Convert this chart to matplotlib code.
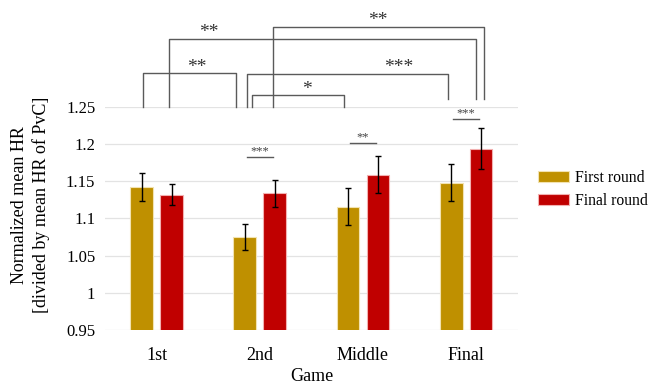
import numpy as np
import matplotlib
matplotlib.use("Agg")
from matplotlib import pyplot as plt

# mean normalized HR per game, with error bar extents
games = ["1st", "2nd", "Middle", "Final"]
first_round = [1.142, 1.075, 1.116, 1.148]
first_err = [0.019, 0.017, 0.025, 0.025]
final_round = [1.132, 1.134, 1.159, 1.194]
final_err = [0.014, 0.018, 0.025, 0.028]

# significance brackets between games:
# (x left, x right, top, left leg end, right leg end, label, label x)
brackets = [
    (-0.13, 0.77, 1.296, 1.25, 1.25, "**", 0.39),
    (0.12, 3.10, 1.342, 1.25, 1.261, "**", 0.51),
    (1.127, 3.17, 1.358, 1.25, 1.261, "**", 2.14),
    (0.875, 2.82, 1.295, 1.25, 1.261, "***", 2.35),
    (0.924, 1.82, 1.266, 1.25, 1.25, "*", 1.46),
]
# within-game comparisons (first vs final round)
pairs = [(1, 1.183, "***"), (2, 1.202, "**"), (3, 1.234, "***")]

plt.rcParams['font.family'] = ['Liberation Serif', 'DejaVu Serif']

fig = plt.figure(figsize=(6.48, 3.84), dpi=100)
ax = fig.add_axes([0.162, 0.141, 0.637, 0.580])

x = np.arange(len(games))
w = 0.22
off = 0.145
ax.bar(x - off, first_round, w, bottom=0, color="#BF9000", edgecolor="#F2E2B0",
       linewidth=0.8, label="First round", zorder=2)
ax.bar(x + off, final_round, w, bottom=0, color="#C00000", edgecolor="#F2B0B0",
       linewidth=0.8, label="Final round", zorder=2)
ax.errorbar(x - off, first_round, yerr=first_err, fmt="none", ecolor="black",
            elinewidth=1, capsize=2.5, capthick=1, zorder=3)
ax.errorbar(x + off, final_round, yerr=final_err, fmt="none", ecolor="black",
            elinewidth=1, capsize=2.5, capthick=1, zorder=3)

ax.set_ylim(0.95, 1.25)
ax.set_xlim(-0.5, 3.5)
ax.set_yticks([0.95, 1, 1.05, 1.1, 1.15, 1.2, 1.25])
ax.set_yticklabels(["0.95", "1", "1.05", "1.1", "1.15", "1.2", "1.25"], fontsize=12)
ax.set_xticks(x)
ax.set_xticklabels(games, fontsize=13)
ax.tick_params(axis="both", length=0, pad=7)
ax.tick_params(axis="x", pad=12)
ax.grid(axis="y", color="#E3E3E3", linewidth=0.9, zorder=0)
ax.set_axisbelow(True)
for s in ax.spines.values():
    s.set_visible(False)

fig.text(0.047, 0.466, "Normalized mean HR\n[divided by mean HR of PvC]",
         rotation=90, ha="center", va="center", fontsize=13, linespacing=1.25)
fig.text(0.481, 1 - 368 / 384, "Game", ha="center", va="top", fontsize=13)

line_c = "#5A5A5A"
for x0, x1, top, l0, l1, lab, lx in brackets:
    ax.plot([x0, x0, x1, x1], [l0, top, top, l1], color=line_c, lw=1.0,
            clip_on=False, zorder=1)
    ax.text(lx, top + 0.002, lab, ha="center", va="baseline", fontsize=14,
            color="#333333", clip_on=False)

for i, y, lab in pairs:
    ax.plot([i - 0.125, i + 0.125], [y, y], color=line_c, lw=1.0, clip_on=False)
    ax.text(i, y + 0.003, lab, ha="center", va="baseline", fontsize=9,
            color="#444444", clip_on=False)

leg = ax.legend(loc="upper left", bbox_to_anchor=(538 / 648, 1 - 170 / 384),
                bbox_transform=fig.transFigure, frameon=False, borderpad=0,
                borderaxespad=0, fontsize=11.3, handlelength=2.0, handleheight=0.65,
                handletextpad=0.35, labelspacing=0.45)

fig.savefig("out.png", dpi=100)
